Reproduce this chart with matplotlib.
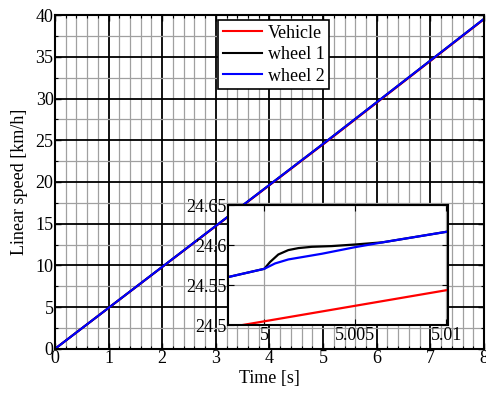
import numpy as np
import matplotlib
matplotlib.use('Agg')
import matplotlib.pyplot as plt
from matplotlib.ticker import MultipleLocator

plt.rcParams['font.family'] = ['Liberation Serif', 'DejaVu Serif']
plt.rcParams['font.size'] = 13

# vehicle speed (km/h) vs time (s)
t_vehicle = [0, 4.998, 5.0101, 8]
v_vehicle = [0, 24.497, 24.544, 39.5]

# wheel 1 (black)
t_wheel1 = [0, 4.998, 5.0, 5.00031, 5.00077, 5.00132, 5.00188, 5.00261,
            5.00371, 5.005, 5.0065, 5.0101, 8]
v_wheel1 = [0, 24.560, 24.5704, 24.5788, 24.5883, 24.5938, 24.5963, 24.5979,
            24.5988, 24.6008, 24.6035, 24.617, 39.55]

# wheel 2 (blue)
t_wheel2 = [0, 4.998, 5.0, 5.00059, 5.00132, 5.00316, 5.005, 5.0065, 5.0101, 8]
v_wheel2 = [0, 24.560, 24.5704, 24.5771, 24.5821, 24.5892, 24.5975, 24.6035,
            24.617, 39.55]

fig = plt.figure(figsize=(4.86, 3.96), dpi=100)
ax = fig.add_axes([0.113, 0.119, 0.883, 0.843])

ax.plot(t_vehicle, v_vehicle, color='red', lw=1.5, label='Vehicle')
ax.plot(t_wheel1, v_wheel1, color='black', lw=1.5, label='wheel 1')
ax.plot(t_wheel2, v_wheel2, color='blue', lw=1.5, label='wheel 2')

ax.set_xlim(0, 8)
ax.set_ylim(0, 40)
ax.xaxis.set_major_locator(MultipleLocator(1))
ax.xaxis.set_minor_locator(MultipleLocator(0.2))
ax.yaxis.set_major_locator(MultipleLocator(5))
ax.yaxis.set_minor_locator(MultipleLocator(2.5))
ax.grid(which='major', color='black', lw=1.3)
ax.grid(which='minor', color='#a0a0a0', lw=0.9)
ax.set_axisbelow(True)
ax.tick_params(which='both', direction='in', top=True, right=True,
               labelsize=13, pad=1)
ax.tick_params(which='major', length=4, width=1)
ax.tick_params(which='minor', length=2.5, width=0.8)
for s in ax.spines.values():
    s.set_linewidth(1.5)
ax.set_xlabel('Time [s]', fontsize=13, labelpad=2)
ax.set_ylabel('Linear speed [km/h]', fontsize=13, labelpad=5)

leg = ax.legend(loc='upper left', bbox_to_anchor=(0.38, 0.985), fontsize=13,
                fancybox=False, edgecolor='black', framealpha=1,
                handlelength=2.2, borderpad=0.25, labelspacing=0.25,
                handletextpad=0.3, borderaxespad=0)
leg.get_frame().set_linewidth(1.2)

# zoomed inset
axi = fig.add_axes([0.469, 0.179, 0.453, 0.303])
axi.plot(t_vehicle, v_vehicle, color='red', lw=1.6)
axi.plot(t_wheel1, v_wheel1, color='black', lw=1.6)
axi.plot(t_wheel2, v_wheel2, color='blue', lw=1.6)
axi.set_xlim(4.998, 5.0101)
axi.set_ylim(24.5, 24.65)
axi.set_xticks([5, 5.005, 5.01])
axi.set_xticklabels(['5', '5.005', '5.01'])
axi.set_yticks([24.5, 24.55, 24.6, 24.65])
axi.set_yticklabels(['24.5', '24.55', '24.6', '24.65'])
axi.grid(color='#a0a0a0', lw=0.9)
axi.tick_params(direction='in', top=True, right=True, labelsize=13,
                length=4, pad=1)
for s in axi.spines.values():
    s.set_linewidth(1.5)

fig.savefig('out.png', dpi=100)
